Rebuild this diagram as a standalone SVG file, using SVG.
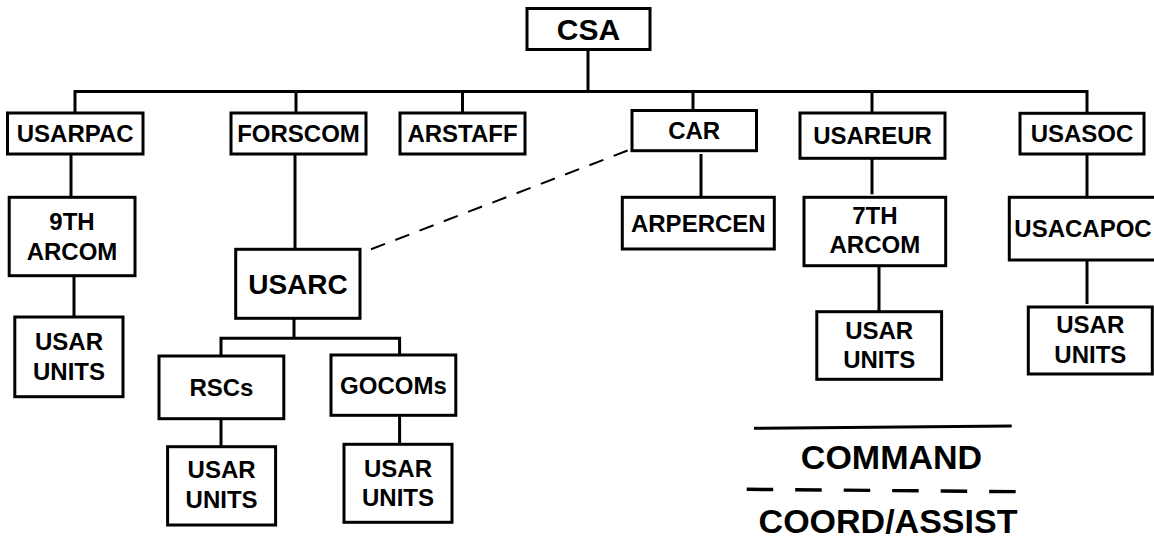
<svg xmlns="http://www.w3.org/2000/svg" width="1154" height="538" viewBox="0 0 1154 538">
  <style>
    .box { fill: #ffffff; stroke: #000000; stroke-width: 3; }
    .lbl { font-family: "Liberation Sans", Arial, sans-serif; font-weight: bold; font-size: 24px; fill: #000000; text-anchor: middle; }
    .big { font-size: 30px; }
    .mid { font-size: 28px; }
    .leg { font-size: 34px; }
    .cmd { fill: none; stroke: #000000; stroke-width: 3; stroke-linejoin: miter; stroke-linecap: butt; }
    .coord { fill: none; stroke: #000000; stroke-width: 2; stroke-dasharray: 15 11; }
    .legcoord { fill: none; stroke: #000000; stroke-width: 3.4; stroke-dasharray: 26.5 22; }
  </style>

  <rect width="1154" height="538" fill="#ffffff"/>

  <!-- command and coordination lines -->
  <g id="connectors">
    <path class="cmd" d="M588,49.3 V91.5"/>
    <path class="cmd" d="M75,113 V91.5 H1087 V113"/>
    <path class="cmd" d="M296,91.5 V113"/>
    <path class="cmd" d="M462.5,91.5 V113"/>
    <path class="cmd" d="M693,91.5 V110"/>
    <path class="cmd" d="M872,91.5 V113"/>
    <path class="cmd" d="M71,154 V197.3"/>
    <path class="cmd" d="M74,275.7 V317"/>
    <path class="cmd" d="M295,154 V249.3"/>
    <path class="cmd" d="M294,318.3 V338.3"/>
    <path class="cmd" d="M221,356 V338.3 H399.6 V355"/>
    <path class="cmd" d="M221,418.7 V446.7"/>
    <path class="cmd" d="M399.6,415.3 V444.3"/>
    <path class="cmd" d="M701,154 V197.3"/>
    <path class="cmd" d="M872,158.3 V194.3"/>
    <path class="cmd" d="M879,265.7 V311.7"/>
    <path class="cmd" d="M1087,154 V197.3"/>
    <path class="cmd" d="M1087,260 V304"/>
    <path class="coord" d="M371,249.3 L630.7,149.3"/>
  </g>

  <g id="csa">
    <rect class="box" x="527" y="8.5" width="123" height="41"/>
    <text class="lbl big" x="588.5" y="39.5">CSA</text>
  </g>
  <g id="usarpac">
    <rect class="box" x="7.5" y="113" width="135.5" height="41"/>
    <text class="lbl" x="75.2" y="142">USARPAC</text>
  </g>
  <g id="forscom">
    <rect class="box" x="231" y="113" width="135" height="41"/>
    <text class="lbl" x="298.5" y="142">FORSCOM</text>
  </g>
  <g id="arstaff">
    <rect class="box" x="400" y="113" width="125" height="41"/>
    <text class="lbl" x="462.5" y="142">ARSTAFF</text>
  </g>
  <g id="car">
    <rect class="box" x="632" y="110.5" width="124.5" height="40.2"/>
    <text class="lbl" x="694.2" y="138.5">CAR</text>
  </g>
  <g id="usareur">
    <rect class="box" x="800" y="113" width="145" height="45.3"/>
    <text class="lbl" x="872.5" y="144">USAREUR</text>
  </g>
  <g id="usasoc">
    <rect class="box" x="1020" y="113.3" width="124" height="40.7"/>
    <text class="lbl" x="1082" y="142">USASOC</text>
  </g>

  <g id="arcom9">
    <rect class="box" x="9.2" y="197.3" width="125.8" height="78.4"/>
    <text class="lbl" x="72" y="229.5">9TH</text>
    <text class="lbl" x="72" y="259.5">ARCOM</text>
  </g>
  <g id="usar-units-pac">
    <rect class="box" x="14.8" y="317" width="108.2" height="79.7"/>
    <text class="lbl" x="69" y="350">USAR</text>
    <text class="lbl" x="69" y="380">UNITS</text>
  </g>

  <g id="usarc">
    <rect class="box" x="235.7" y="249.3" width="124.3" height="69"/>
    <text class="lbl mid" x="298" y="293.5">USARC</text>
  </g>
  <g id="rscs">
    <rect class="box" x="159" y="356" width="124.8" height="62.7"/>
    <text class="lbl" x="221.4" y="396">RSCs</text>
  </g>
  <g id="gocoms">
    <rect class="box" x="331" y="355" width="124.8" height="60.3"/>
    <text class="lbl" x="393.4" y="393.5">GOCOMs</text>
  </g>
  <g id="usar-units-rsc">
    <rect class="box" x="167.6" y="446.7" width="108" height="78.3"/>
    <text class="lbl" x="221.6" y="477.7">USAR</text>
    <text class="lbl" x="221.6" y="508.3">UNITS</text>
  </g>
  <g id="usar-units-gocom">
    <rect class="box" x="344" y="444.3" width="108" height="78"/>
    <text class="lbl" x="398" y="476.7">USAR</text>
    <text class="lbl" x="398" y="505.5">UNITS</text>
  </g>

  <g id="arpercen">
    <rect class="box" x="622.3" y="197.3" width="152" height="51.7"/>
    <text class="lbl" x="698.3" y="231.8">ARPERCEN</text>
  </g>

  <g id="arcom7">
    <rect class="box" x="804" y="197.3" width="141.7" height="68.4"/>
    <text class="lbl" x="874.8" y="224">7TH</text>
    <text class="lbl" x="874.8" y="252.7">ARCOM</text>
  </g>
  <g id="usar-units-eur">
    <rect class="box" x="816.8" y="311.7" width="124.8" height="67.6"/>
    <text class="lbl" x="879.2" y="339.3">USAR</text>
    <text class="lbl" x="879.2" y="368.3">UNITS</text>
  </g>

  <g id="usacapoc">
    <rect class="box" x="1009.3" y="197.3" width="150" height="62.7"/>
    <text class="lbl" x="1083" y="237">USACAPOC</text>
  </g>
  <g id="usar-units-soc">
    <rect class="box" x="1028.3" y="307" width="124" height="67"/>
    <text class="lbl" x="1090.3" y="333.3">USAR</text>
    <text class="lbl" x="1090.3" y="362.7">UNITS</text>
  </g>

  <!-- legend -->
  <g id="legend">
    <path class="cmd" d="M754,428.3 L1011.7,426"/>
    <text class="lbl leg" x="891.5" y="469">COMMAND</text>
    <path class="legcoord" d="M746.7,489.3 L1019.3,491.7"/>
    <text class="lbl leg" x="888" y="533">COORD/ASSIST</text>
  </g>
</svg>
